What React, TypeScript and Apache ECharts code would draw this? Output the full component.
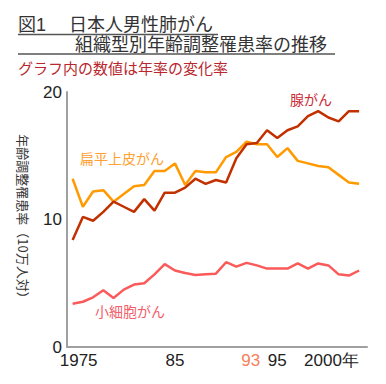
import React, { useEffect, useRef } from "react";
import * as echarts from "echarts";

const years = [
  1975, 1976, 1977, 1978, 1979, 1980, 1981, 1982, 1983, 1984,
  1985, 1986, 1987, 1988, 1989, 1990, 1991, 1992, 1993, 1994,
  1995, 1996, 1997, 1998, 1999, 2000, 2001, 2002, 2003,
];

// 腺がん
const adenoValues = [
  8.4, 10.2, 9.9, 10.6, 11.4, 11.0, 10.6, 11.6, 10.7, 12.1,
  12.1, 12.5, 13.2, 12.8, 13.1, 12.9, 14.8, 15.9, 16.0, 17.0,
  16.4, 17.0, 17.3, 18.1, 18.5, 18.0, 17.7, 18.5, 18.5,
];

// 扁平上皮がん
const squamousValues = [
  13.2, 11.0, 12.2, 12.3, 11.4, 12.0, 12.6, 12.7, 13.8, 13.8,
  14.4, 12.7, 13.8, 13.7, 13.7, 14.9, 15.3, 16.1, 15.9, 15.9,
  14.9, 15.6, 14.6, 14.4, 14.2, 14.1, 13.5, 12.9, 12.8,
];

// 小細胞がん
const smallCellValues = [
  3.4, 3.55, 3.9, 4.45, 3.85, 4.5, 4.9, 5.0, 5.7, 6.5,
  6.0, 5.8, 5.65, 5.7, 5.75, 6.65, 6.3, 6.6, 6.4, 6.15,
  6.15, 6.15, 6.55, 6.15, 6.55, 6.4, 5.7, 5.6, 6.0,
];

const xTickValues = [1975, 1985, 1992.4, 1995, 2000];
const xTickLabels = ["1975", "85", "93", "95", "2000年"];
const markerYear = 1992.4;
const markerTop = 16.1;
const markerBottom = -0.5;

const titleLine1 = "図1　 日本人男性肺がん";
const titleLine2 = "組織型別年齢調整罹患率の推移";
const subtitle = "グラフ内の数値は年率の変化率";
const yAxisName = "年齢調整罹患率（10万人対）";

const CJK = '"Noto Sans CJK JP", "Noto Sans", sans-serif';
const TITLE_FONT = '"Liberation Sans", "Noto Sans CJK JP", sans-serif';
const NUM = '"Liberation Sans", Arial, sans-serif';

export default function App() {
  const ref = useRef<HTMLDivElement>(null);

  useEffect(() => {
    if (!ref.current) return;
    const chart = echarts.init(ref.current, undefined, { renderer: "svg" });
    const toPairs = (vals: number[]) => years.map((y, i) => [y, vals[i]]);

    chart.setOption({
      animation: false,
      backgroundColor: "#ffffff",
      grid: { left: 67, right: 19, top: 92, bottom: 37, containLabel: false },
      xAxis: {
        type: "value",
        min: 1974.45,
        max: 2003.77,
        axisLine: { show: true, lineStyle: { color: "#a0a0a0", width: 2 } },
        axisTick: { show: false },
        splitLine: { show: false },
        axisLabel: {
          customValues: xTickValues,
          margin: 5,
          fontSize: 17,
          fontFamily: NUM,
          color: "#222",
          formatter: (v: number) => {
            const k = xTickValues.findIndex((t) => Math.abs(t - v) < 0.01);
            if (k < 0) return "";
            const s = xTickLabels[k];
            if (k === 0) return `{first|${s}}`;
            if (k === 2) return `{hl|${s}}`;
            if (k === 4) return `{last|${s}}`;
            return s;
          },
          rich: {
            first: { fontSize: 17, fontFamily: NUM, color: "#222", padding: [0, 0, 0, 12] },
            hl: { fontSize: 17, fontFamily: NUM, color: "#f57f5a" },
            last: { fontSize: 17, fontFamily: NUM, color: "#222", padding: [0, 0, 0, 6] },
          },
        },
      },
      yAxis: {
        type: "value",
        min: 0,
        max: 20,
        interval: 10,
        name: yAxisName,
        nameLocation: "middle",
        nameRotate: -90,
        nameGap: 37,
        nameTextStyle: { fontSize: 13, fontFamily: CJK, color: "#333" },
        axisLine: { show: true, lineStyle: { color: "#a0a0a0", width: 2 } },
        axisTick: { show: false },
        splitLine: { show: false },
        axisLabel: { fontSize: 17, fontFamily: NUM, color: "#222", margin: 5 },
      },
      series: [
        {
          name: "小細胞がん",
          type: "line",
          data: toPairs(smallCellValues),
          symbol: "none",
          lineStyle: { color: "#fb5a5a", width: 2.5 },
        },
        {
          name: "扁平上皮がん",
          type: "line",
          data: toPairs(squamousValues),
          symbol: "none",
          lineStyle: { color: "#ff9a00", width: 2.5 },
        },
        {
          name: "腺がん",
          type: "line",
          data: toPairs(adenoValues),
          symbol: "none",
          lineStyle: { color: "#c23000", width: 2.5 },
          markLine: {
            silent: true,
            symbol: "none",
            label: { show: false },
            lineStyle: { color: "#f7a07a", width: 1.5, type: [4, 3] },
            data: [[{ coord: [markerYear, markerTop] }, { coord: [markerYear, markerBottom] }]],
          },
        },
      ],
      graphic: [
        {
          type: "text",
          x: 18,
          y: 24.8,
          style: {
            text: titleLine1,
            font: `18px ${TITLE_FONT}`,
            lineHeight: 18,
            fill: "#333",
            verticalAlign: "middle",
          },
        },
        {
          type: "line",
          shape: { x1: 18, y1: 34.5, x2: 218, y2: 34.5 },
          style: { stroke: "#555", lineWidth: 1.5 },
        },
        {
          type: "text",
          x: 75,
          y: 45.2,
          style: {
            text: titleLine2,
            font: `18px ${TITLE_FONT}`,
            lineHeight: 18,
            fill: "#333",
            verticalAlign: "middle",
          },
        },
        {
          type: "line",
          shape: { x1: 18, y1: 54, x2: 335, y2: 54 },
          style: { stroke: "#555", lineWidth: 1.5 },
        },
        {
          type: "text",
          x: 18,
          y: 67.5,
          style: { text: subtitle, font: `15px ${CJK}`, fill: "#b8282e", verticalAlign: "middle" },
        },
        {
          type: "text",
          x: 290,
          y: 99,
          style: { text: "腺がん", font: `14px ${CJK}`, fill: "#cc2a36", verticalAlign: "middle" },
        },
        {
          type: "text",
          x: 80,
          y: 157.5,
          style: { text: "扁平上皮がん", font: `14px ${CJK}`, fill: "#ffa030", verticalAlign: "middle" },
        },
        {
          type: "text",
          x: 95,
          y: 311,
          style: { text: "小細胞がん", font: `14px ${CJK}`, fill: "#f2606c", verticalAlign: "middle" },
        },
      ],
    });

    return () => chart.dispose();
  }, []);

  return (
    <div
      ref={ref}
      style={{ position: "fixed", left: 0, top: 0, width: 386, height: 384, background: "#fff" }}
    />
  );
}
